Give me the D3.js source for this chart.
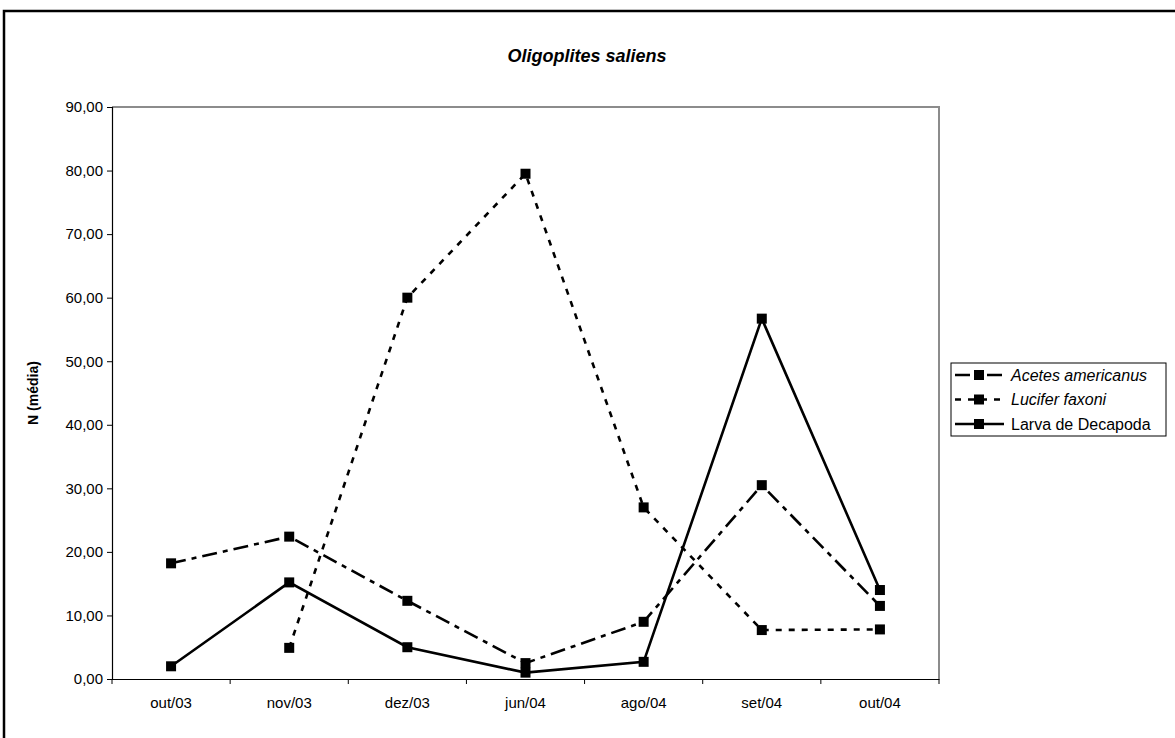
<!DOCTYPE html>
<html>
<head>
<meta charset="utf-8">
<script src="https://cdn.jsdelivr.net/npm/d3@7"></script>
<style>
  body { margin: 0; background: #fff; }
  text { font-family: Arial, "Liberation Sans", sans-serif; fill: #000; }
</style>
</head>
<body>
<div id="chart"></div>
<script>
// data
var months = ["out/03", "nov/03", "dez/03", "jun/04", "ago/04", "set/04", "out/04"];
var acetes = [18.2, 22.4, 12.3, 2.5, 9.0, 30.5, 11.5];
var lucifer = [null, 4.9, 60.0, 79.5, 27.0, 7.7, 7.8];
var larva = [2.0, 15.2, 5.0, 1.0, 2.7, 56.7, 14.0];
var yTicks = [0, 10, 20, 30, 40, 50, 60, 70, 80, 90];

var series = [
    { name: "Acetes americanus", values: acetes, dash: "15,6,5,6", italic: true },
    { name: "Lucifer faxoni", values: lucifer, dash: "6,7", italic: true },
    { name: "Larva de Decapoda", values: larva, dash: null, italic: false }
];

var W = 1175, H = 738;
var plot = { left: 112, right: 939, top: 107, bottom: 679 };

var svg = d3.select("#chart").append("svg")
    .attr("width", W)
    .attr("height", H);

// outer frame (runs off the right and bottom edges)
svg.append("rect")
    .attr("x", 4).attr("y", 11)
    .attr("width", W + 20).attr("height", H + 20)
    .attr("fill", "#fff")
    .attr("stroke", "#000")
    .attr("stroke-width", 2.5);

var x = d3.scaleBand()
    .domain(months)
    .range([plot.left, plot.right]);

var y = d3.scaleLinear()
    .domain([0, 90])
    .range([plot.bottom, plot.top]);

// plot area border: top + right gray
svg.append("path")
    .attr("d", "M" + plot.left + "," + plot.top + "H" + plot.right + "V" + plot.bottom)
    .attr("fill", "none")
    .attr("stroke", "#8c8c8c")
    .attr("stroke-width", 2);

// y axis
var yAxis = svg.append("g")
    .attr("transform", "translate(" + plot.left + ",0)")
    .call(d3.axisLeft(y)
        .tickValues(yTicks)
        .tickSize(5)
        .tickPadding(4)
        .tickFormat(function (d) { return d3.format(".2f")(d).replace(".", ","); }));
yAxis.select(".domain").attr("stroke", "#000").attr("stroke-width", 1.2);
yAxis.selectAll(".tick line").attr("stroke", "#000");
yAxis.selectAll("text").style("font-size", "15px").attr("fill", "#000");

// x axis, ticks sit between the categories
var xAxis = svg.append("g")
    .attr("transform", "translate(0," + plot.bottom + ")")
    .call(d3.axisBottom(x).tickSize(0).tickPadding(18));
xAxis.select(".domain").attr("stroke", "#000").attr("stroke-width", 1.2);
xAxis.selectAll("text").style("font-size", "15px").attr("fill", "#000");
xAxis.selectAll(".sep")
    .data(months.concat([null]))
    .enter().append("line")
    .attr("class", "sep")
    .attr("x1", function (d, i) { return plot.left + i * x.step(); })
    .attr("x2", function (d, i) { return plot.left + i * x.step(); })
    .attr("y1", 0).attr("y2", 5)
    .attr("stroke", "#000");

// title
svg.append("text")
    .attr("x", 587).attr("y", 62)
    .attr("text-anchor", "middle")
    .style("font-size", "18px")
    .style("font-weight", "bold")
    .style("font-style", "italic")
    .text("Oligoplites saliens");

// y axis title
svg.append("text")
    .attr("transform", "translate(38," + (plot.top + plot.bottom) / 2 + ") rotate(-90)")
    .attr("text-anchor", "middle")
    .style("font-size", "14px")
    .style("font-weight", "bold")
    .text("N (média)");

var line = d3.line()
    .defined(function (d) { return d != null; })
    .x(function (d, i) { return x(months[i]) + x.bandwidth() / 2; })
    .y(function (d) { return y(d); });

var ms = 10; // marker size

series.forEach(function (s) {
    svg.append("path")
        .datum(s.values)
        .attr("d", line)
        .attr("fill", "none")
        .attr("stroke", "#000")
        .attr("stroke-width", 2.6)
        .attr("stroke-dasharray", s.dash);

    svg.selectAll(null)
        .data(s.values.map(function (v, i) { return { v: v, m: months[i] }; })
            .filter(function (d) { return d.v != null; }))
        .enter().append("rect")
        .attr("x", function (d) { return x(d.m) + x.bandwidth() / 2 - ms / 2; })
        .attr("y", function (d) { return y(d.v) - ms / 2; })
        .attr("width", ms).attr("height", ms)
        .attr("fill", "#000");
});

// legend
var legend = svg.append("g");
legend.append("rect")
    .attr("x", 951).attr("y", 363)
    .attr("width", 215).attr("height", 73)
    .attr("fill", "#fff")
    .attr("stroke", "#000")
    .attr("stroke-width", 1);

var rows = legend.selectAll(".row")
    .data(series)
    .enter().append("g")
    .attr("class", "row")
    .attr("transform", function (d, i) { return "translate(0," + (375 + i * 24.5) + ")"; });

rows.append("line")
    .attr("x1", 955).attr("x2", 1004)
    .attr("y1", 0).attr("y2", 0)
    .attr("stroke", "#000")
    .attr("stroke-width", 2.6)
    .attr("stroke-dasharray", function (d) { return d.dash; });

rows.append("rect")
    .attr("x", 979 - ms / 2).attr("y", -ms / 2)
    .attr("width", ms).attr("height", ms)
    .attr("fill", "#000");

rows.append("text")
    .attr("x", 1011).attr("y", 5.5)
    .style("font-size", "16px")
    .style("font-style", function (d) { return d.italic ? "italic" : "normal"; })
    .text(function (d) { return d.name; });
</script>
</body>
</html>
